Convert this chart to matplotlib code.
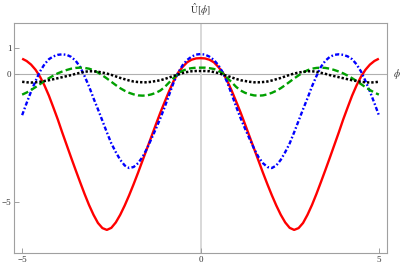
import numpy as np
import matplotlib
matplotlib.use("Agg")
import matplotlib.pyplot as plt

plt.rcParams['lines.scale_dashes'] = False
plt.rcParams['mathtext.fontset'] = 'stix'

# sample grid of phi
phi = np.linspace(-5, 5, 81)

# values for phi = 0, 0.125, ..., 5 (curves are even in phi)
red_pos = [0.62, 0.61, 0.56, 0.46, 0.28, 0.06, -0.26, -0.65, -1.07, -1.50,
           -1.96, -2.43, -2.90, -3.37, -3.84, -4.29, -4.72, -5.12, -5.48, -5.78,
           -5.99, -6.07, -6.00, -5.80, -5.48, -5.10, -4.67, -4.21, -3.74, -3.26,
           -2.77, -2.28, -1.77, -1.30, -0.84, -0.44, -0.10, 0.17, 0.37, 0.51, 0.60]
blue_pos = [0.78, 0.76, 0.68, 0.55, 0.35, 0.06, -0.32, -0.79, -1.27, -1.72,
            -2.13, -2.52, -2.90, -3.23, -3.47, -3.62, -3.66, -3.56, -3.34, -3.04,
            -2.70, -2.27, -1.82, -1.37, -0.94, -0.48, -0.08, 0.28, 0.52, 0.67,
            0.75, 0.77, 0.75, 0.69, 0.58, 0.38, 0.10, -0.27, -0.68, -1.13, -1.60]
green_pos = [0.25, 0.25, 0.23, 0.20, 0.13, 0.03, -0.15, -0.32, -0.50, -0.64,
             -0.73, -0.79, -0.83, -0.84, -0.83, -0.79, -0.73, -0.65, -0.55, -0.43,
             -0.30, -0.17, -0.05, 0.06, 0.15, 0.21, 0.24, 0.25, 0.24, 0.21,
             0.16, 0.10, 0.03, -0.06, -0.16, -0.27, -0.39, -0.51, -0.62, -0.72, -0.80]
black_pos = [0.12, 0.12, 0.11, 0.08, 0.04, -0.02, -0.07, -0.13, -0.19, -0.24,
             -0.27, -0.30, -0.32, -0.32, -0.31, -0.29, -0.25, -0.20, -0.15, -0.09,
             -0.03, 0.02, 0.06, 0.09, 0.11, 0.11, 0.09, 0.05, 0.01, -0.04,
             -0.08, -0.12, -0.16, -0.20, -0.24, -0.27, -0.30, -0.32, -0.33, -0.32, -0.30]

def full(pos):
    return list(reversed(pos[1:])) + list(pos)

red = full(red_pos)
blue = full(blue_pos)
green = full(green_pos)
black = full(black_pos)

x_ticks = [-5, 0, 5]
y_ticks = [-5, 0, 1]

fig = plt.figure(figsize=(4.03, 2.68), dpi=100)
ax = fig.add_axes([14.3/403, 15/268, (386.7-14.3)/403, (253-23)/268])

ax.axhline(0, color='#b0b0b0', lw=0.8, zorder=1)
ax.axvline(0, color='#d8d8d8', lw=1.4, zorder=1)

ax.plot(phi, red, color='#ff0000', lw=1.7, solid_capstyle='butt', zorder=3)
ax.plot(phi, blue, color='#0000ff', lw=1.7, dashes=(3.0, 1.6, 1.2, 1.6), zorder=4)
ax.plot(phi, green, color='#00a000', lw=1.7, dashes=(4.8, 2.4), zorder=5)
ax.plot(phi, black, color='#000000', lw=1.8, dashes=(1.7, 1.4), zorder=6)

ax.set_xlim(-5.22, 5.22)
ax.set_ylim(-6.97, 1.99)
ax.set_xticks(x_ticks)
ax.set_yticks(y_ticks)
ax.set_xticklabels(['\u22125', '0', '5'])
ax.set_yticklabels(['\u22125', '0', '1'])
for s in ax.spines.values():
    s.set_color('#a0a0a0')
    s.set_linewidth(0.8)
ax.tick_params(direction='in', length=3.5, width=0.7, color='#a0a0a0',
               labelsize=6.5, pad=2, labelcolor='#333333')
for lab in ax.get_xticklabels() + ax.get_yticklabels():
    lab.set_family('Liberation Serif')

fig.text(200.5/403, 1 - 10/268, r'$\hat{\mathrm{U}}[\phi]$', ha='center', va='center',
         fontsize=7, color='#333333')
fig.text(397/403, 1 - 74/268, r'$\phi$', ha='center', va='center',
         fontsize=7, color='#333333')

fig.savefig('out.png', dpi=100)
